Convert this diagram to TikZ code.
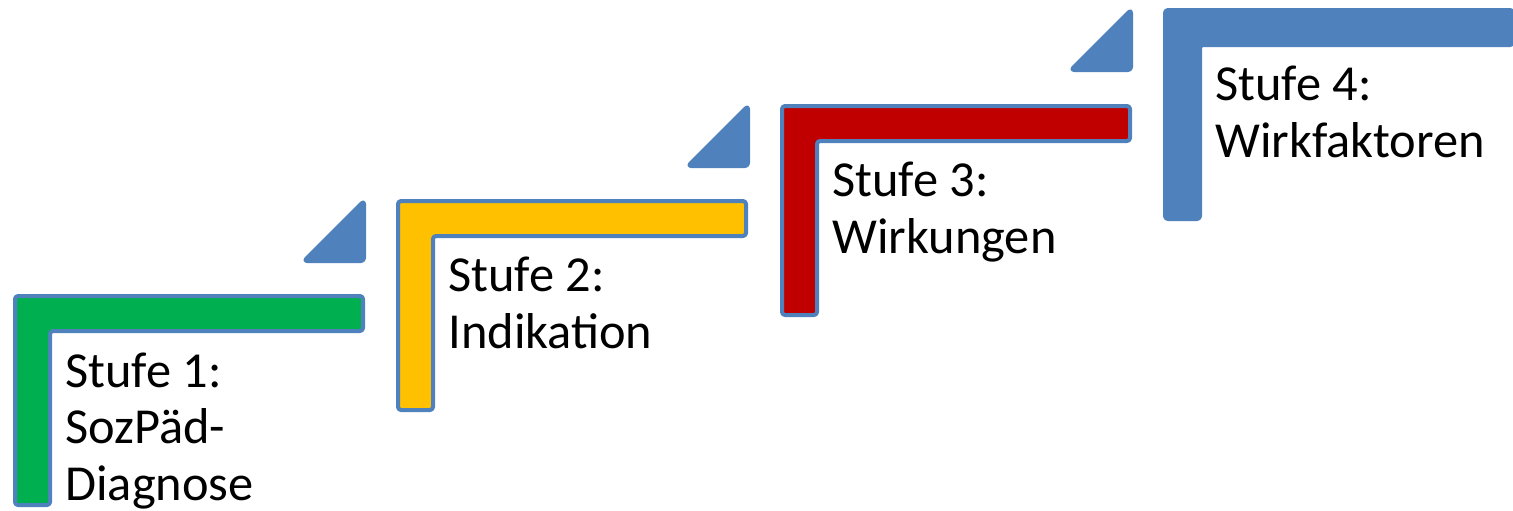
\documentclass[tikz,border=0pt]{standalone}
\usepackage{fontspec}
\setmainfont{Carlito}
\definecolor{stepblue}{HTML}{4F81BD}
\definecolor{stepgreen}{HTML}{00B050}
\definecolor{stepyellow}{HTML}{FFC000}
\definecolor{stepred}{HTML}{C00000}
\begin{document}
\begin{tikzpicture}[x=0.5pt,y=-0.5pt,
  stair/.style={draw=stepblue, line width=2pt, rounded corners=1.5pt, line join=round},
  riser/.style={draw=stepblue, fill=stepblue, line width=2pt, rounded corners=1.5pt, line join=round},
  steplabel/.style={anchor=base west, inner sep=0pt, align=left,
    font=\fontsize{25.2}{28.2}\selectfont}]
\useasboundingbox (0,0) rectangle (1513,510);
% four L-shaped stairs, each with its caption (anchored at the last baseline)
\foreach \x/\y/\c/\b/\t [count=\i] in {
    15/296/stepgreen/204/{Stufe 1:\\SozPäd-\\Diagnose},
    398/201/stepyellow/147/{Stufe 2:\\Indikation},
    782/106/stepred/147/{Stufe 3:\\Wirkungen},
    1165/10/stepblue/147/{Stufe 4:\\Wirkfaktoren}} {
  \begin{scope}[shift={(\x,\y)}]
    \draw[stair, fill=\c] (0,0) -- (348,0) -- (348,35) -- (35,35)
      -- (35,209) -- (0,209) -- cycle;
    \node[steplabel] (label\i) at (50,\b) {\t};
  \end{scope}
}
% triangular risers between the stairs
\foreach \x/\y [count=\i] in {398/201, 782/106, 1165/10} {
  \begin{scope}[shift={(\x,\y)}]
    \draw[riser] (-94,60) -- (-34,60) -- (-34,0) -- cycle;
  \end{scope}
}
\end{tikzpicture}
\end{document}
